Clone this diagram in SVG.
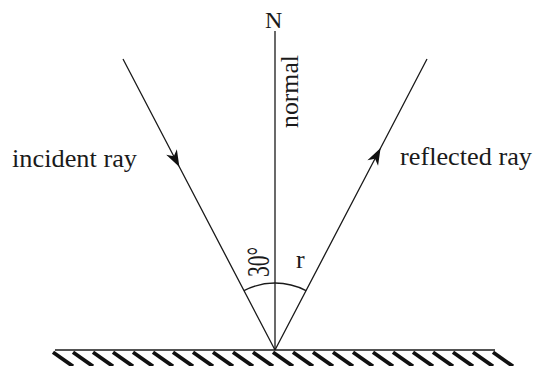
<svg xmlns="http://www.w3.org/2000/svg" width="533" height="366" viewBox="0 0 533 366">
<style>
  .ln{stroke:#1a1a1a;stroke-width:1.3;fill:none}
  .hatch{stroke:#111;stroke-width:3.8;stroke-linecap:butt}
  .t{font-family:'Liberation Serif','Times New Roman',serif;fill:#1a1a1a}
</style>
<defs>
  <marker id="arr" viewBox="-18 -7 20 14" refX="0" refY="0" markerWidth="20" markerHeight="14" markerUnits="userSpaceOnUse" orient="auto">
    <path d="M0,0 L-17,-6 L-12,0 L-17,6 Z" fill="#111"/>
  </marker>
</defs>
<rect width="533" height="366" fill="#fff"/>
<g id="connectors">
  <line id="normal-line" class="ln" x1="275" y1="31" x2="275" y2="350"/>
  <path id="incident" class="ln" d="M123,59 L179.4,167 L275,350" marker-mid="url(#arr)"/>
  <path id="reflected" class="ln" d="M275,350 L380.6,148 L427,59" marker-mid="url(#arr)"/>
  <path id="angle-arcs" class="ln" d="M244,290.6 A67,67 0 0 1 275,283 A67,67 0 0 1 306,290.6"/>
</g>
<g id="ground">
  <line class="ln" x1="55" y1="350" x2="495" y2="350" stroke-width="1.3"/>
  <g class="hatch">
    <line x1="53" y1="352.3" x2="73" y2="366.3"/>
    <line x1="73" y1="352.3" x2="93" y2="366.3"/>
    <line x1="93" y1="352.3" x2="113" y2="366.3"/>
    <line x1="113" y1="352.3" x2="133" y2="366.3"/>
    <line x1="133" y1="352.3" x2="153" y2="366.3"/>
    <line x1="153" y1="352.3" x2="173" y2="366.3"/>
    <line x1="173" y1="352.3" x2="193" y2="366.3"/>
    <line x1="193" y1="352.3" x2="213" y2="366.3"/>
    <line x1="213" y1="352.3" x2="233" y2="366.3"/>
    <line x1="233" y1="352.3" x2="253" y2="366.3"/>
    <line x1="253" y1="352.3" x2="273" y2="366.3"/>
    <line x1="273" y1="352.3" x2="293" y2="366.3"/>
    <line x1="293" y1="352.3" x2="313" y2="366.3"/>
    <line x1="313" y1="352.3" x2="333" y2="366.3"/>
    <line x1="333" y1="352.3" x2="353" y2="366.3"/>
    <line x1="353" y1="352.3" x2="373" y2="366.3"/>
    <line x1="373" y1="352.3" x2="393" y2="366.3"/>
    <line x1="393" y1="352.3" x2="413" y2="366.3"/>
    <line x1="413" y1="352.3" x2="433" y2="366.3"/>
    <line x1="433" y1="352.3" x2="453" y2="366.3"/>
    <line x1="453" y1="352.3" x2="473" y2="366.3"/>
    <line x1="473" y1="352.3" x2="493" y2="366.3"/>
    <line x1="493" y1="352.3" x2="513" y2="366.3"/>
  </g>
</g>
<g id="label-N"><text class="t" font-family="'Liberation Serif', serif" x="265" y="28" font-size="24">N</text></g>
<g id="label-normal"><text class="t" font-family="'Liberation Serif', serif" font-size="26" transform="translate(298,128) rotate(-90)" textLength="73" lengthAdjust="spacingAndGlyphs">normal</text></g>
<g id="label-incident"><text class="t" font-family="'Liberation Serif', serif" x="12" y="167" font-size="26" textLength="125" lengthAdjust="spacingAndGlyphs">incident ray</text></g>
<g id="label-reflected"><text class="t" font-family="'Liberation Serif', serif" x="400" y="165" font-size="26" textLength="132" lengthAdjust="spacingAndGlyphs">reflected ray</text></g>
<g id="label-30"><text class="t" font-family="'Liberation Serif', serif" font-size="32" transform="translate(269,277) rotate(-90)" textLength="30" lengthAdjust="spacingAndGlyphs">30°</text></g>
<g id="label-r"><text class="t" font-family="'Liberation Serif', serif" x="296" y="268" font-size="26">r</text></g>
</svg>
